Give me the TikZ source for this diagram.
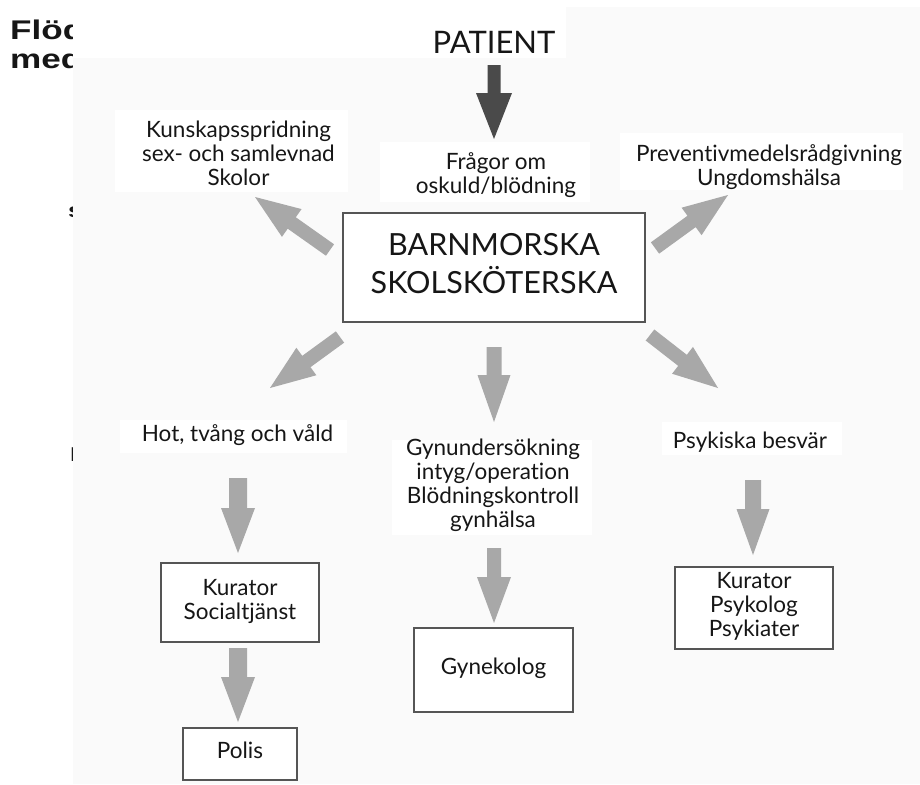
\documentclass[tikz,border=0pt]{standalone}
\usepackage{fontspec}
\setmainfont{Lato}[Ligatures={NoCommon,NoContextual}]
\newfontfamily\headfont[FakeStretch=1.3]{Liberation Sans}
\usetikzlibrary{calc}
\definecolor{bgpanel}{HTML}{FAFAFA}
\definecolor{darkarrow}{HTML}{4A4A4A}
\definecolor{lightarrow}{HTML}{A8A8A8}
\definecolor{boxline}{HTML}{555555}
\definecolor{inktext}{HTML}{161616}
% block arrow: #1 tail, #2 tip, #3 shaft half width, #4 head half width, #5 head length, #6 colour
\newcommand\blockarrow[6]{%
  \path ($(#2)!#5!(#1)$) coordinate (bahead);
  \fill[#6] ($(#1)!#3!90:(#2)$) -- ($(bahead)!#3!-90:(#1)$) -- ($(bahead)!#4!-90:(#1)$) -- (#2)
    -- ($(bahead)!#4!90:(#1)$) -- ($(bahead)!#3!90:(#1)$) -- ($(#1)!#3!-90:(#2)$) -- cycle;}
\begin{document}
\begin{tikzpicture}[x=1pt,y=1pt,
  lbl/.style={align=center, text=inktext, font=\fontsize{22.5}{24}\selectfont, inner sep=0pt},
  boxnode/.style={draw=boxline, line width=2.2pt, fill=white, align=center, text=inktext,
    font=\fontsize{22.5}{24}\selectfont, inner sep=0pt},
  labelbg/.style={fill=white, draw=none},
  headtxt/.style={anchor=base west, inner sep=0pt, text=inktext, font=\headfont\bfseries\fontsize{27}{28}\selectfont}]
\useasboundingbox (0,0) rectangle (920,-784);
\fill[white] (0,0) rectangle (920,-784);
% background page fragments, cut by the panel
\begin{scope}
  \clip (0,0) rectangle (73,-784);
  \node[headtxt] (head1) at (10,-40) {Flöd};
  \node[headtxt] (head2) at (10,-68) {med};
  \node[headtxt, font=\headfont\bfseries\fontsize{20}{22}\selectfont] (frag1) at (68,-217) {s};
  \node[headtxt, font=\headfont\bfseries\fontsize{20}{22}\selectfont] (frag2) at (70,-461) {H};
\end{scope}
% panel
\fill[bgpanel] (73,-7) rectangle (920,-784);
\fill[white] (73,-7) rectangle (566,-58);
% label backgrounds
\fill[labelbg] (115,-110) rectangle (348,-192);
\fill[labelbg] (620,-133) rectangle (903,-190);
\fill[labelbg] (380,-142) rectangle (590,-202);
\fill[labelbg] (120,-420) rectangle (347,-453);
\fill[labelbg] (392,-440) rectangle (592,-535);
\fill[labelbg] (662,-422) rectangle (842,-455);
% texts
\node[lbl, anchor=base, font=\fontsize{31}{34}\selectfont] (patient) at (494,-54) {PATIENT};
\node[lbl] (fragor) at (496,-176.2) {\strut Frågor om\\\strut oskuld/blödning};
\node[lbl] (kunskap) at (238.5,-156.7) {\strut Kunskapsspridning\\\strut sex- och samlevnad\\\strut Skolor};
\node[lbl] (prevent) at (769,-168.7) {\strut Preventivmedelsrådgivning\\\strut Ungdomshälsa};
\node[lbl, anchor=base] (hot) at (237.5,-441) {Hot, tvång och våld};
\node[lbl] (gyn) at (493,-486.7) {\strut Gynundersökning\\\strut intyg/operation\\\strut Blödningskontroll\\\strut gynhälsa};
\node[lbl, anchor=base] (psyk) at (750,-448) {Psykiska besvär};
% boxes
\node[boxnode, minimum width=302pt, minimum height=109pt, font=\fontsize{30.5}{33}\selectfont] (main) at (494,-267.5)
  {\strut BARNMORSKA\\\strut SKOLSKÖTERSKA};
\node[boxnode, minimum width=158pt, minimum height=79pt] (kurator) at (240,-602.5) {\strut Kurator\\\strut Socialtjänst};
\node[boxnode, minimum width=114pt, minimum height=52pt] (polis) at (240,-754) {\strut Polis};
\node[boxnode, minimum width=159pt, minimum height=84pt] (gynekolog) at (493.5,-670) {\strut Gynekolog};
\node[boxnode, minimum width=158pt, minimum height=82pt] (kpp) at (754,-608) {\raisebox{-2pt}{\parbox{150pt}{\centering\strut Kurator\\\strut Psykolog\\\strut Psykiater}}};
% arrow end points
\coordinate (pT) at (494,-65);   \coordinate (pH) at (494,-139);
\coordinate (nwT) at (330,-250); \coordinate (nwH) at (255,-197);
\coordinate (neT) at (655,-248); \coordinate (neH) at (728,-195);
\coordinate (swT) at (340,-337); \coordinate (swH) at (270,-388);
\coordinate (sT) at (494,-347);  \coordinate (sH) at (494,-422);
\coordinate (seT) at (650,-335); \coordinate (seH) at (718,-388);
\coordinate (hT) at (238,-478);  \coordinate (hH) at (238,-553);
\coordinate (kT) at (238,-648);  \coordinate (kH) at (238,-722);
\coordinate (gT) at (494,-548);  \coordinate (gH) at (494,-623);
\coordinate (yT) at (753,-480);  \coordinate (yH) at (753,-555);
% arrows
\blockarrow{pT}{pH}{6.5pt}{18pt}{46pt}{darkarrow}
\blockarrow{nwT}{nwH}{7pt}{17pt}{45pt}{lightarrow}
\blockarrow{neT}{neH}{7pt}{17pt}{45pt}{lightarrow}
\blockarrow{swT}{swH}{7pt}{17pt}{45pt}{lightarrow}
\blockarrow{sT}{sH}{7.5pt}{16.5pt}{47pt}{lightarrow}
\blockarrow{seT}{seH}{7pt}{17pt}{45pt}{lightarrow}
\blockarrow{hT}{hH}{9pt}{17pt}{45pt}{lightarrow}
\blockarrow{kT}{kH}{9pt}{17pt}{45pt}{lightarrow}
\blockarrow{gT}{gH}{7pt}{17pt}{46pt}{lightarrow}
\blockarrow{yT}{yH}{8pt}{16.5pt}{46pt}{lightarrow}
\end{tikzpicture}
\end{document}
